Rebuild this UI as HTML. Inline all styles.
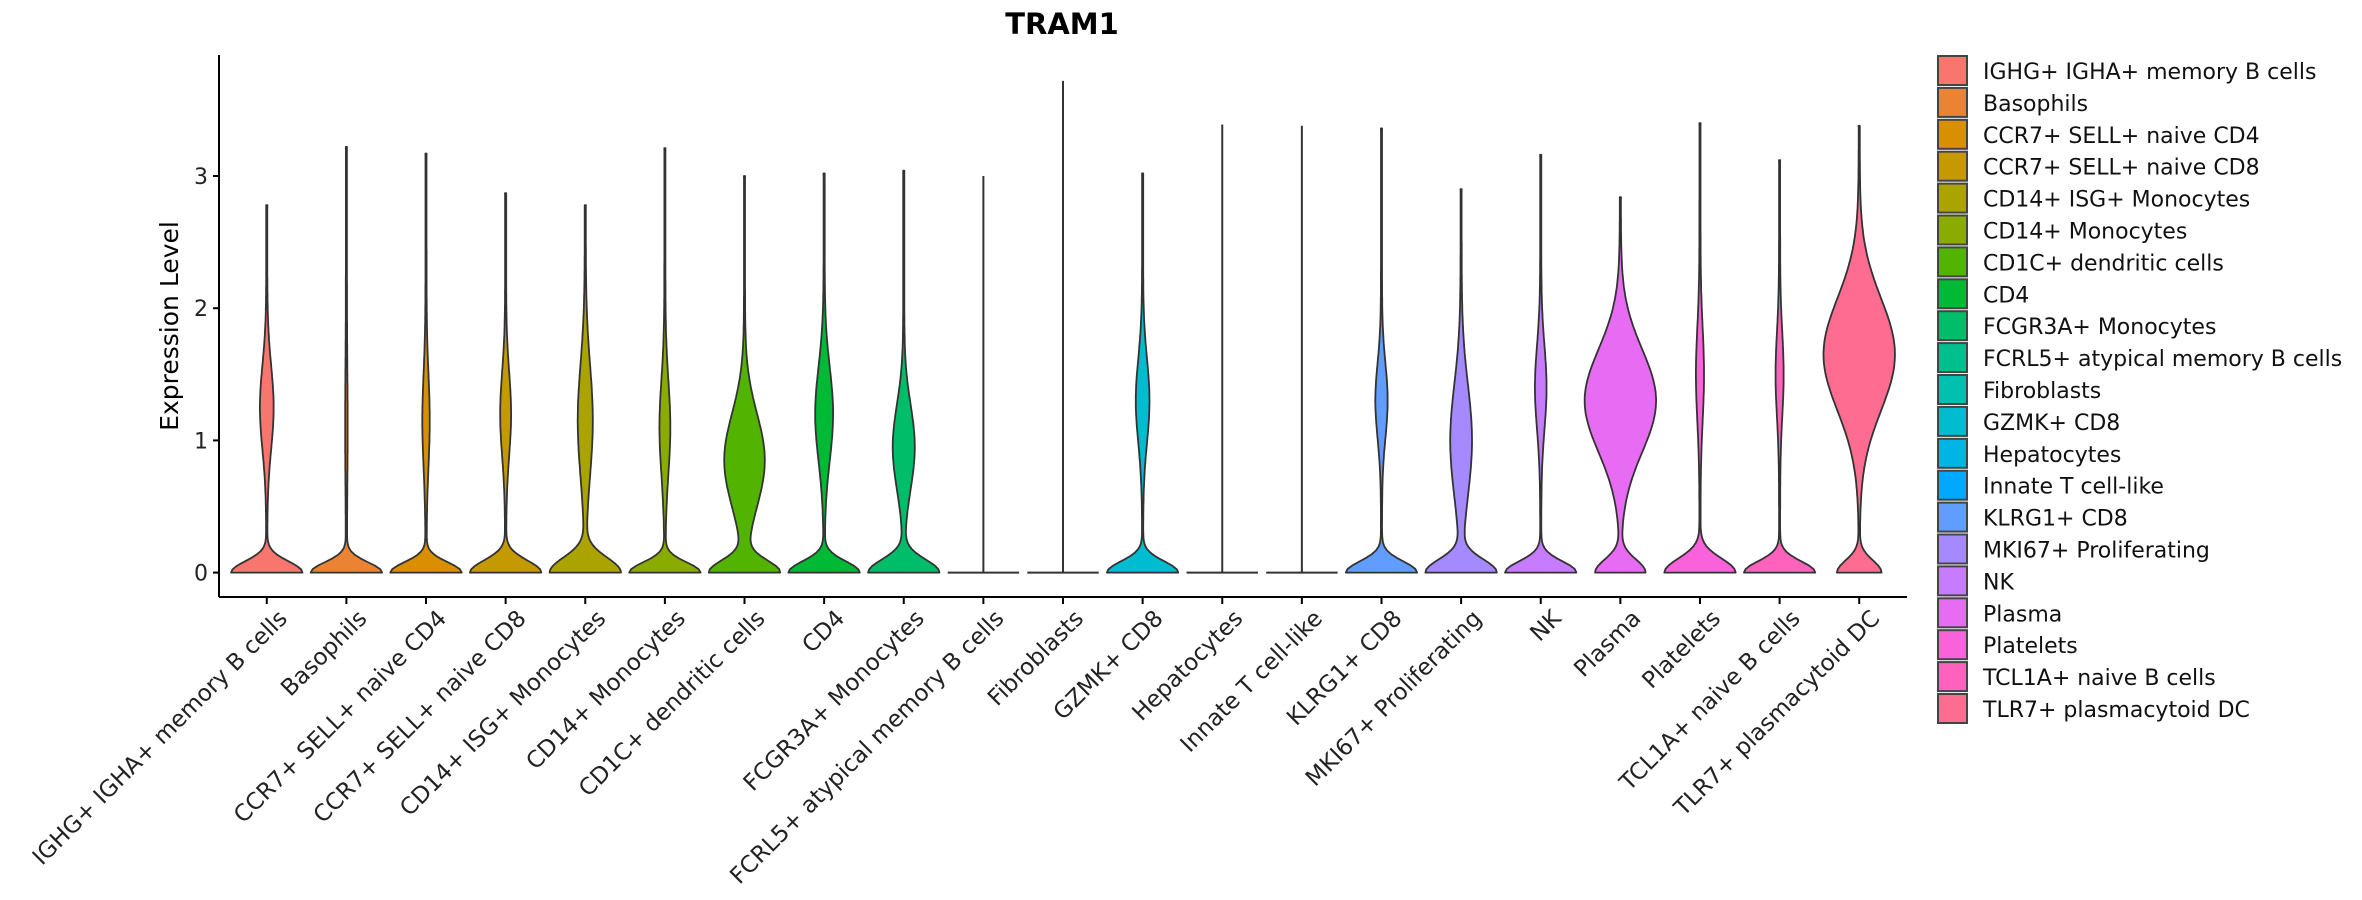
<!DOCTYPE html>
<html><head><meta charset="utf-8"><style>
html,body{margin:0;padding:0;background:#fff;}
svg{display:block;font-family:"DejaVu Sans","Liberation Sans",sans-serif;}
</style></head><body>
<svg id="chart" width="2362" height="900" viewBox="0 0 2362 900" xmlns="http://www.w3.org/2000/svg">
<text x="1062" y="34" text-anchor="middle" font-size="29" font-weight="bold" fill="#000">TRAM1</text>
<text transform="translate(178,326) rotate(-90)" text-anchor="middle" font-size="25" fill="#000">Expression Level</text>
<g id="plot"></g>
<g id="legend"></g>
</svg>
<script>
const categories = ["IGHG+ IGHA+ memory B cells","Basophils","CCR7+ SELL+ naive CD4","CCR7+ SELL+ naive CD8","CD14+ ISG+ Monocytes","CD14+ Monocytes","CD1C+ dendritic cells","CD4","FCGR3A+ Monocytes","FCRL5+ atypical memory B cells","Fibroblasts","GZMK+ CD8","Hepatocytes","Innate T cell-like","KLRG1+ CD8","MKI67+ Proliferating","NK","Plasma","Platelets","TCL1A+ naive B cells","TLR7+ plasmacytoid DC"];
const legendLabels = [" IGHG+ IGHA+ memory B cells","Basophils","CCR7+ SELL+ naive CD4","CCR7+ SELL+ naive CD8","CD14+ ISG+ Monocytes","CD14+ Monocytes","CD1C+ dendritic cells","CD4","FCGR3A+ Monocytes","FCRL5+ atypical memory B cells","Fibroblasts","GZMK+ CD8","Hepatocytes","Innate T cell-like","KLRG1+ CD8","MKI67+ Proliferating","NK","Plasma","Platelets","TCL1A+ naive B cells","TLR7+ plasmacytoid DC"];
const colors = ["#F8766D","#EB8335","#DA8F00","#C49A00","#AAA300","#8AAB00","#53B400","#00B934","#00BD6A","#00BF8F","#00C0AF","#00BCD1","#00B5E6","#00A9FF","#619CFF","#A58AFF","#C77CFF","#E76BF3","#FA62DB","#FF62BC","#FF6C91"];
const yMax = [2.78,3.22,3.17,2.87,2.78,3.21,3.0,3.02,3.04,3.0,3.72,3.02,3.39,3.38,3.36,2.9,3.16,2.84,3.4,3.12,3.38];
const baseWidth = [1,1,1,1,1,1,1,1,1,1,1,1,1,1,1,1,1,0.7,1,1,0.62];
const baseSpread = [0.12,0.11,0.11,0.13,0.16,0.11,0.13,0.12,0.14,0,0,0.12,0,0,0.12,0.14,0.12,0.14,0.15,0.12,0.13];
const midCenter = [1.25,1.1,1.15,1.2,1.15,1.1,0.85,1.2,0.95,0,0,1.3,0,0,1.3,1.0,1.4,1.3,1.5,1.5,1.65];
const midWidth = [0.18,0.02,0.09,0.14,0.2,0.14,0.58,0.24,0.3,0,0,0.18,0,0,0.16,0.3,0.15,1.0,0.1,0.1,1.0];
const midSpread = [0.45,0.6,0.5,0.45,0.6,0.5,0.5,0.5,0.45,1,1,0.45,1,1,0.4,0.6,0.45,0.55,0.5,0.45,0.6];
const yTicks = [0,1,2,3];

const NS="http://www.w3.org/2000/svg";
const plot=document.getElementById('plot');
const X0=219, X1=1907, Y0=597, YTOP=55;
const unit=(X1-X0)/(categories.length-1+1.2);
const xScale=i=>X0+unit*(0.6+i);
const yScale=v=>572.6-v*132.2;
const halfMax=35.7;
function mk(tag,attrs){const e=document.createElementNS(NS,tag);for(const k in attrs)e.setAttribute(k,attrs[k]);return e;}

const yAxis=mk('line',{x1:X0,y1:YTOP,x2:X0,y2:Y0,stroke:'#000','stroke-width':2});


plot.appendChild(yAxis);
const xAxis=mk('line',{x1:X0,y1:Y0,x2:X1,y2:Y0,stroke:'#000','stroke-width':2});


plot.appendChild(xAxis);
yTicks.forEach(t=>{
  const y=yScale(t);
  const tk=mk('line',{x1:X0-6,y1:y,x2:X0,y2:y,stroke:'#000','stroke-width':2});
  
  
  plot.appendChild(tk);
  const lb=mk('text',{x:X0-11,y:y+8,'text-anchor':'end','font-size':22,fill:'#222'});
  lb.textContent=t;
  
  
  plot.appendChild(lb);
});

categories.forEach((c,i)=>{
  const cx=xScale(i);
  const N=120, top=yMax[i];
  let el;
  if(baseSpread[i]===0){
    el=mk('path',{d:`M${cx-halfMax},${yScale(0)}L${cx+halfMax},${yScale(0)}M${cx},${yScale(0)}L${cx},${yScale(top)}`,fill:'none',stroke:'#333','stroke-width':2});
  } else {
    const w=[];let mx=0;
    for(let k=0;k<=N;k++){const v=top*k/N;
      let h=baseWidth[i]*Math.exp(-Math.pow(v/baseSpread[i],2))+midWidth[i]*Math.exp(-Math.pow((v-midCenter[i])/midSpread[i],2))+0.015;
      w.push([v,h]);mx=Math.max(mx,h);}
    const right=w.map(([v,h])=>[cx+h/mx*halfMax,yScale(v)]);
    const left=w.slice().reverse().map(([v,h])=>[cx-h/mx*halfMax,yScale(v)]);
    right[N][0]=cx+0.6;left[0][0]=cx-0.6;
    const d='M'+right.concat(left).map(p=>p[0].toFixed(1)+','+p[1].toFixed(1)).join('L')+'Z';
    el=mk('path',{d:d,fill:colors[i],stroke:'#333','stroke-width':1.8,'stroke-linejoin':'round'});
  }
  
  
  plot.appendChild(el);
  const tk=mk('line',{x1:cx,y1:Y0,x2:cx,y2:Y0+7,stroke:'#000','stroke-width':2});
  
  
  plot.appendChild(tk);
  const lb=mk('text',{transform:`translate(${cx+10},${608}) rotate(-45)`,'text-anchor':'end','font-size':23,fill:'#222',dy:'0.72em'});
  lb.textContent=c;
  
  
  plot.appendChild(lb);
});

const legend=document.getElementById('legend');
legendLabels.forEach((l,i)=>{
  const y=55+i*31.9;
  const r=mk('rect',{x:1938,y:y+1,width:29,height:29,fill:colors[i],stroke:'#444','stroke-width':2});
  
  
  legend.appendChild(r);
  const t=mk('text',{x:1983,y:y+24,'font-size':22,fill:'#111','xml:space':'preserve'});
  t.textContent=l;
  
  
  legend.appendChild(t);
});
</script>
</body></html>
